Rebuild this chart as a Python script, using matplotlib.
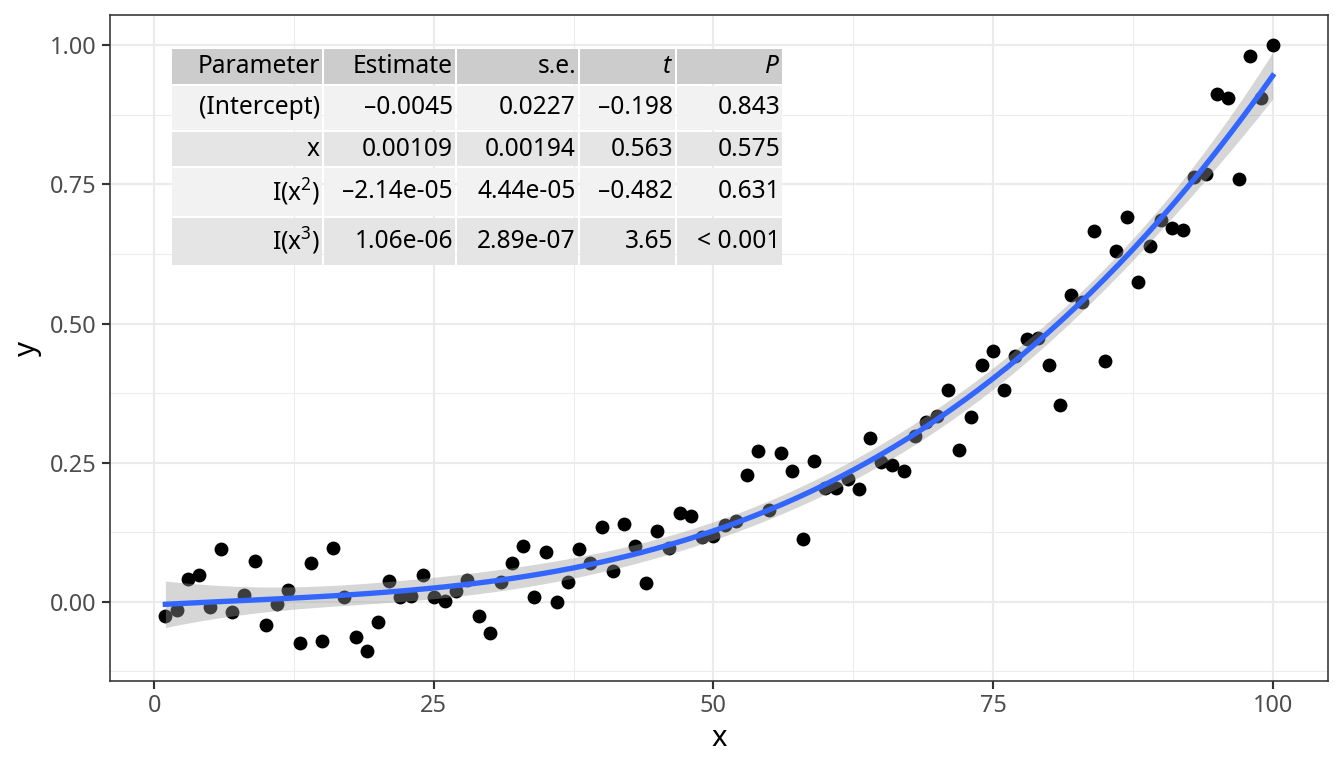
import numpy as np
import matplotlib
matplotlib.use("Agg")
import matplotlib.pyplot as plt
from matplotlib.patches import Rectangle

plt.rcParams['font.family'] = ['Noto Sans', 'DejaVu Sans']
plt.rcParams['mathtext.fontset'] = 'custom'
plt.rcParams['mathtext.rm'] = 'Noto Sans'
plt.rcParams['mathtext.it'] = 'Noto Sans:italic'

# data, x = 1..100
x = np.arange(1, 101)
y = [-0.026, -0.0145, 0.041, 0.048, -0.0096, 0.094, -0.0185, 0.0125, 0.073, -0.042,
     -0.004, 0.0215, -0.074, 0.069, -0.070, 0.096, 0.0078, -0.064, -0.088, -0.037,
     0.037, 0.0084, 0.0096, 0.048, 0.0084, 0.0018, 0.020, 0.039, -0.026, -0.056,
     0.035, 0.069, 0.100, 0.0084, 0.090, -0.0006, 0.0364, 0.0956, 0.069, 0.135,
     0.0556, 0.1398, 0.100, 0.0346, 0.128, 0.0968, 0.159, 0.1535, 0.116, 0.1177,
     0.138, 0.1446, 0.227, 0.2706, 0.165, 0.267, 0.235, 0.1135, 0.253, 0.205,
     0.205, 0.221, 0.203, 0.295, 0.2515, 0.2455, 0.2353, 0.298, 0.323, 0.334,
     0.380, 0.2724, 0.3315, 0.4253, 0.451, 0.380, 0.442, 0.472, 0.4737, 0.4253,
     0.353, 0.5507, 0.538, 0.666, 0.432, 0.631, 0.691, 0.575, 0.640, 0.686,
     0.671, 0.668, 0.764, 0.768, 0.913, 0.906, 0.759, 0.9815, 0.906, 1.000]
y = np.array(y)

# coefficient table text
tab_header = ["Parameter", "Estimate", "s.e.", "$\\it{t}$", "$\\it{P}$"]
tab_rows = [
    ["(Intercept)", "\u20130.0045", "0.0227", "\u20130.198", "0.843"],
    ["x", "0.00109", "0.00194", "0.563", "0.575"],
    ["I($\\mathrm{x}^{2}$)", "\u20132.14e-05", "4.44e-05", "\u20130.482", "0.631"],
    ["I($\\mathrm{x}^{3}$)", "1.06e-06", "2.89e-07", "3.65", "< 0.001"],
]

# cubic fit with 95% band (like geom_smooth(method = lm, formula = y ~ poly(x, 3, raw=TRUE)))
X = np.vander(x, 4, increasing=True).astype(float)
beta, res, rk, sv = np.linalg.lstsq(X, y, rcond=None)
resid = y - X @ beta
dof = len(y) - 4
sigma2 = resid @ resid / dof
XtXi = np.linalg.inv(X.T @ X)
xs = np.linspace(x.min(), x.max(), 80)
Xs = np.vander(xs, 4, increasing=True)
fit = Xs @ beta
se = np.sqrt(np.einsum('ij,jk,ik->i', Xs, XtXi, Xs) * sigma2)
tcrit = 1.9850  # t(0.975, 96)

W, H = 1344, 768
fig = plt.figure(figsize=(7, 4), dpi=192)
ax = fig.add_axes([110 / W, 1 - 681 / H, (1328 - 110) / W, (681 - 15) / H])

ax.scatter(x, y, s=27, color='black', linewidths=0, zorder=3)
ax.fill_between(xs, fit - tcrit * se, fit + tcrit * se, color='#999999', alpha=0.4,
                linewidth=0, zorder=4)
ax.plot(xs, fit, color='#3366FF', lw=2.0, zorder=5)

xr = x.max() - x.min()
yr = y.max() - y.min()
ax.set_xlim(x.min() - 0.05 * xr, x.max() + 0.05 * xr)
ax.set_ylim(y.min() - 0.05 * yr, y.max() + 0.05 * yr)
ax.set_xticks([0, 25, 50, 75, 100])
ax.set_xticks([12.5, 37.5, 62.5, 87.5], minor=True)
ax.set_yticks([0, 0.25, 0.5, 0.75, 1.0])
ax.set_yticks([-0.125, 0.125, 0.375, 0.625, 0.875], minor=True)
ax.set_yticklabels(["0.00", "0.25", "0.50", "0.75", "1.00"])
ax.grid(True, which='major', color='#ebebeb', lw=0.8, zorder=0)
ax.grid(True, which='minor', color='#ebebeb', lw=0.4, zorder=0)
ax.set_axisbelow(True)
for sp in ax.spines.values():
    sp.set_color('#333333')
    sp.set_linewidth(0.6)
ax.tick_params(which='major', length=3, width=0.8, color='#333333',
               labelcolor='#4d4d4d', labelsize=8.8, pad=2)
ax.tick_params(which='minor', length=0)
ax.set_xlabel("x", fontsize=11, labelpad=2)
ax.set_ylabel("y", fontsize=11, labelpad=3)

# table inset, drawn in figure pixels
col_l = [172, 324, 457, 580, 677]
col_r = [322, 455, 578, 675, 782]
row_t = [49, 86, 132, 168, 218]
row_b = [84, 130, 166, 216, 265]
fills = ['#cccccc', '#f2f2f2', '#e5e5e5', '#f2f2f2', '#e5e5e5']
all_rows = [tab_header] + tab_rows
for i, row in enumerate(all_rows):
    for j, txt in enumerate(row):
        l, r = col_l[j], col_r[j]
        t, b = row_t[i], row_b[i]
        fig.add_artist(Rectangle((l / W, 1 - b / H), (r - l) / W, (b - t) / H,
                                 transform=fig.transFigure, facecolor=fills[i],
                                 edgecolor='none', zorder=10))
        fig.text((r - 2) / W, 1 - (t + b) / 2 / H, txt, ha='right', va='center',
                 fontsize=9.2, color='black', zorder=11)

fig.savefig("out.png", dpi=192)
